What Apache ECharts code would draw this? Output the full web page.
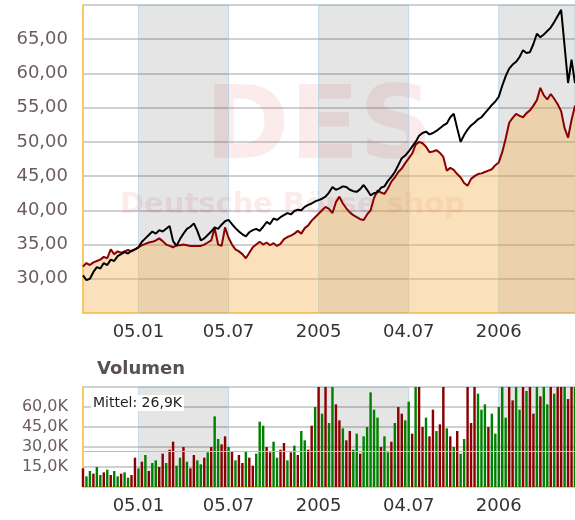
<!DOCTYPE html>
<html>
<head>
<meta charset="utf-8">
<script src="https://cdn.jsdelivr.net/npm/echarts@6/dist/echarts.min.js"></script>
<style>
html, body { margin: 0; padding: 0; background: #fff; }
#chart { width: 575px; height: 520px; }
</style>
</head>
<body>
<div id="chart"></div>
<script>
// one value per week (Mondays), 15.09.2003 .. 05.06.2006
const startDay = Date.UTC(2003, 8, 15)

const priceClose = [
  30.5, 29.8, 30.0, 31.0, 31.7, 31.5, 32.3, 32.0, 32.8, 32.6,
  33.3, 33.6, 33.9, 33.7, 34.1, 34.3, 34.6, 35.4, 35.9, 36.4,
  36.9, 36.6, 37.1, 36.9, 37.3, 37.7, 35.5, 34.8, 35.8, 36.6,
  37.3, 37.6, 38.1, 37.0, 35.6, 35.9, 36.4, 36.9, 37.5, 37.3,
  37.9, 38.4, 38.6, 38.0, 37.4, 36.9, 36.5, 36.2, 36.8, 37.1,
  37.3, 37.0, 37.6, 38.3, 38.0, 38.8, 38.6, 39.0, 39.3, 39.6,
  39.4, 39.9, 40.1, 40.0, 40.5, 40.8, 41.0, 41.3, 41.5, 41.7,
  42.0, 42.6, 43.4, 43.0, 43.2, 43.5, 43.4, 43.0, 42.8, 42.7,
  43.1, 43.7, 43.0, 42.2, 42.5, 42.6, 43.3, 43.5, 44.3, 44.9,
  45.6, 46.6, 47.6, 48.0, 48.6, 49.3, 50.0, 50.9, 51.3, 51.5,
  51.1, 51.3, 51.6, 52.0, 52.4, 52.7, 53.6, 54.1, 52.0, 50.0,
  51.0, 51.8, 52.4, 52.8, 53.3, 53.6, 54.2, 54.8, 55.4, 55.9,
  56.6, 58.2, 59.6, 60.7, 61.3, 61.7, 62.4, 63.4, 63.0, 63.1,
  64.3, 65.8, 65.3, 65.7, 66.2, 66.7, 67.5, 68.4, 69.3, 64.0,
  58.6, 62.0, 58.6
]

const benchClose = [
  31.8, 32.3, 32.0, 32.4, 32.6, 32.8, 33.2, 33.0, 34.3, 33.6,
  34.0, 33.8, 34.0, 34.2, 34.0, 34.3, 34.6, 34.9, 35.1, 35.3,
  35.4, 35.6, 35.9, 35.5, 35.0, 34.8, 34.6, 34.9, 34.9, 35.0,
  34.9, 34.8, 34.8, 34.8, 34.8, 35.0, 35.3, 35.6, 37.4, 35.0,
  34.8, 37.5, 36.0, 35.0, 34.3, 34.0, 33.6, 33.0, 33.8, 34.6,
  35.0, 35.4, 35.0, 35.3, 34.9, 35.2, 34.8, 35.1, 35.8, 36.1,
  36.3, 36.6, 37.0, 36.6, 37.4, 37.8, 38.5, 39.0, 39.5, 40.0,
  40.5, 40.2, 39.6, 41.2, 42.0, 41.0, 40.3, 39.7, 39.3, 39.0,
  38.7, 38.6, 39.4, 40.0, 41.8, 42.9, 42.6, 42.4, 43.2, 44.2,
  44.8, 45.6, 46.1, 46.9, 47.6, 48.3, 49.6, 50.0, 49.8, 49.3,
  48.5, 48.6, 48.8, 48.4, 47.8, 45.8, 46.2, 45.9, 45.3, 44.8,
  44.0, 43.6, 44.6, 45.0, 45.3, 45.4, 45.6, 45.8, 46.0, 46.6,
  47.0, 48.5, 50.5, 52.8, 53.5, 54.1, 53.8, 53.6, 54.2, 54.6,
  55.3, 56.1, 57.9, 56.8, 56.2, 57.0, 56.3, 55.5, 54.5, 52.0,
  50.6, 53.2, 55.3
]

// volume in thousands
const volumeK = [
  14, 8, 12, 10, 15, 9, 11, 13, 9, 12,
  8, 10, 11, 7, 9, 22, 14, 19, 24, 12,
  18, 20, 15, 25, 18, 28, 34, 16, 22, 30,
  19, 14, 24, 20, 17, 22, 26, 30, 53, 36,
  32, 38, 30, 27, 20, 24, 18, 27, 22, 16,
  25, 49, 46, 30, 26, 34, 22, 28, 33, 20,
  26, 31, 24, 42, 35, 28, 46, 60, 82, 55,
  84, 48, 80, 62, 50, 44, 35, 42, 28, 40,
  25, 38, 45, 71, 58, 52, 30, 38, 26, 34,
  48, 60, 55, 50, 64, 40, 85, 80, 45, 52,
  38, 58, 42, 47, 82, 44, 38, 30, 42, 25,
  36, 86, 48, 80, 70, 58, 62, 45, 55, 40,
  60, 84, 52, 80, 65, 88, 58, 82, 72, 85,
  55, 80, 68, 90, 62, 82, 70, 86, 76, 84,
  66, 88, 80
]
// 1 = green (up), 0 = red (down)
const volumeUp = [
  0, 1, 1, 0, 1, 1, 0, 1, 0, 1,
  1, 0, 1, 1, 0, 0, 1, 0, 1, 0,
  1, 1, 0, 0, 1, 0, 0, 1, 1, 0,
  1, 0, 0, 1, 1, 0, 1, 0, 1, 1,
  0, 0, 1, 0, 1, 0, 0, 1, 0, 0,
  1, 1, 1, 0, 0, 1, 1, 0, 0, 1,
  0, 1, 0, 1, 1, 0, 0, 1, 0, 1,
  0, 1, 1, 0, 0, 1, 0, 0, 1, 1,
  0, 1, 1, 1, 1, 1, 0, 1, 1, 0,
  1, 0, 0, 1, 1, 0, 1, 0, 0, 1,
  0, 0, 1, 0, 0, 1, 0, 1, 0, 1,
  1, 0, 0, 0, 1, 1, 1, 0, 1, 1,
  1, 1, 1, 0, 0, 1, 1, 0, 1, 0,
  0, 1, 0, 1, 1, 0, 1, 0, 0, 1,
  0, 0, 1
]
const volumeMean = 26.9

const tickIndex = [16, 42, 68, 94, 120]
const tickLabels = ['05.01', '05.07', '2005', '04.07', '2006']
const bandRanges = [[16, 42], [68, 94], [120, 142]]

let weeks = []
for (let i = 0; i < priceClose.length; i++) {
  weeks.push(new Date(startDay + i * 7 * 86400000).toISOString().slice(0, 10))
}

const orange = '#fcc865'
const font = 'DejaVu Sans'

let bands = bandRanges.map(r => [{ xAxis: weeks[r[0]] }, { xAxis: weeks[r[1]] }])
let bandStyle = {
  color: 'rgba(0,0,0,0.1)',
  borderColor: 'rgba(170,205,230,0.7)',
  borderWidth: 1
}

function xLabel(idx) {
  return tickIndex.indexOf(idx) >= 0
}

let xAxisBase = {
  type: 'category',
  data: weeks,
  boundaryGap: false,
  axisLine: { show: true, lineStyle: { color: orange, width: 2 } },
  axisTick: { show: false },
  splitLine: { show: false },
  axisLabel: {
    interval: xLabel,
    formatter: (v, i) => tickLabels[tickIndex.indexOf(i)] || '',
    color: '#333',
    fontFamily: font,
    fontSize: 18,
    margin: 10
  }
}

let ch = echarts.init(document.getElementById('chart'))
let option = {
  animation: false,
  title: {
    text: 'Volumen',
    left: 92,
    top: 355,
    textStyle: { fontFamily: font, fontSize: 18, fontWeight: 'bold', color: '#5a5252' }
  },
  grid: [
    { left: 83, right: 0, top: 5, height: 308 },
    { left: 83, right: 0, top: 387, height: 100 }
  ],
  xAxis: [
    Object.assign({ gridIndex: 0 }, xAxisBase),
    Object.assign({ gridIndex: 1 }, xAxisBase)
  ],
  yAxis: [
    {
      gridIndex: 0,
      type: 'value',
      min: 25,
      max: 70,
      interval: 5,
      axisLine: { show: true, lineStyle: { color: orange, width: 2 } },
      axisTick: { show: false },
      splitLine: { lineStyle: { color: '#d0d0d0', width: 2 } },
      axisLabel: {
        formatter: v => (v < 30 || v > 65) ? '' : v.toFixed(2).replace('.', ','),
        color: '#6b5c67',
        fontFamily: font,
        fontSize: 18,
        margin: 15
      }
    },
    {
      gridIndex: 1,
      type: 'value',
      min: 0,
      max: 75,
      interval: 15,
      axisLine: { show: true, lineStyle: { color: orange, width: 2 } },
      axisTick: { show: false },
      splitLine: { lineStyle: { color: '#d0d0d0', width: 2 } },
      axisLabel: {
        formatter: v => (v < 15 || v > 60) ? '' : v.toFixed(1).replace('.', ',') + 'K',
        color: '#6b5c67',
        fontFamily: font,
        fontSize: 16,
        margin: 15,
        padding: [0, 0, 7, 0]
      }
    }
  ],
  graphic: [
    {
      type: 'text', left: 205, top: 80, z: 1, silent: true,
      style: { text: 'DES', font: 'bold 102px "DejaVu Sans"', fill: 'rgba(215,70,70,0.11)' }
    },
    {
      type: 'text', left: 120, top: 191, z: 1, silent: true,
      style: { text: 'Deutsche Börse shop', font: 'bold 29px "DejaVu Sans"', fill: 'rgba(215,70,70,0.11)' }
    },
    {
      type: 'text', left: 91, top: 395, z: 20, silent: true,
      style: {
        text: 'Mittel: 26,9K', font: '14px "DejaVu Sans"', fill: '#222',
        backgroundColor: '#fff', padding: [1, 2]
      }
    }
  ],
  series: [
    {
      // background bands of the price panel
      type: 'line', xAxisIndex: 0, yAxisIndex: 0, data: benchClose,
      symbol: 'none', silent: true, z: 1,
      lineStyle: { opacity: 0 },
      markArea: { silent: true, itemStyle: bandStyle, data: bands }
    },
    {
      name: 'Index', type: 'line', xAxisIndex: 0, yAxisIndex: 0, data: benchClose,
      symbol: 'none', z: 3,
      lineStyle: { color: '#8b0000', width: 2 },
      areaStyle: { color: 'rgba(246,182,88,0.58)', origin: 'start' }
    },
    {
      name: 'Kurs', type: 'line', xAxisIndex: 0, yAxisIndex: 0, data: priceClose,
      symbol: 'none', z: 4,
      lineStyle: { color: '#000', width: 2 }
    },
    {
      // bands and mean line of the volume panel
      type: 'line', xAxisIndex: 1, yAxisIndex: 1, data: volumeK,
      symbol: 'none', silent: true, z: 1,
      lineStyle: { opacity: 0 },
      markArea: { silent: true, itemStyle: bandStyle, data: bands },
      markLine: {
        silent: true, symbol: 'none', label: { show: false },
        lineStyle: { color: '#c0c0c0', width: 1, type: 'solid' },
        data: [{ yAxis: volumeMean }]
      }
    },
    {
      name: 'Volumen', type: 'bar', xAxisIndex: 1, yAxisIndex: 1, data: volumeK,
      z: 3,
      barCategoryGap: '30%',
      itemStyle: {
        color: p => volumeUp[p.dataIndex] ? '#008000' : '#8b0000'
      }
    }
  ]
}
ch.setOption(option)
</script>
</body>
</html>
